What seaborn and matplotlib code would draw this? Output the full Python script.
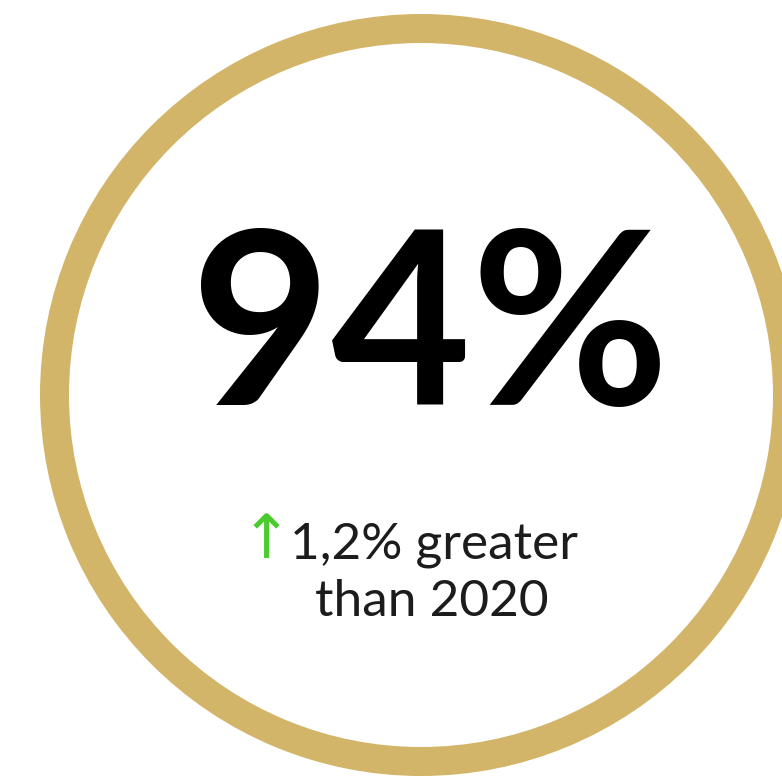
import matplotlib
matplotlib.use("Agg")
import matplotlib.pyplot as plt
import seaborn as sns
from matplotlib.patches import Wedge

# data for the KPI badge
kpi_value = 94
kpi_change = 1.2
compare_year = 2020
ring_share = [100]

sns.set_theme(style="white")
plt.rcParams['font.family'] = ['Lato', 'DejaVu Sans']

fig = plt.figure(figsize=(7.82, 7.80), dpi=100)
ax = fig.add_axes([0, 0, 1, 1])
ax.set_xlim(0, 782)
ax.set_ylim(780, 0)
ax.set_aspect('equal')
ax.axis('off')

# gold ring
cx, cy, r_out, thick = 421, 395, 381, 29
for share in ring_share:
    ax.add_patch(Wedge((cx, cy), r_out, 0, 360 * share / 100, width=thick,
                       facecolor='#D3B56A', edgecolor='none'))

# big number
ax.text(430, 336, f"{kpi_value}%", ha='center', va='center',
        fontsize=174, fontweight='bold', color='black')

# change label
ax.text(290, 545, f"{kpi_change:.1f}".replace('.', ',') + "% greater",
        ha='left', va='center', fontsize=37, color='#1c1c1c')
ax.text(266, 541, "\u2191", ha='center', va='center', fontsize=44,
        family='DejaVu Sans', color='#4CCB2E')
ax.text(432, 602, f"than {compare_year}", ha='center', va='center',
        fontsize=37, color='#1c1c1c')

fig.savefig("out.png", dpi=100)
